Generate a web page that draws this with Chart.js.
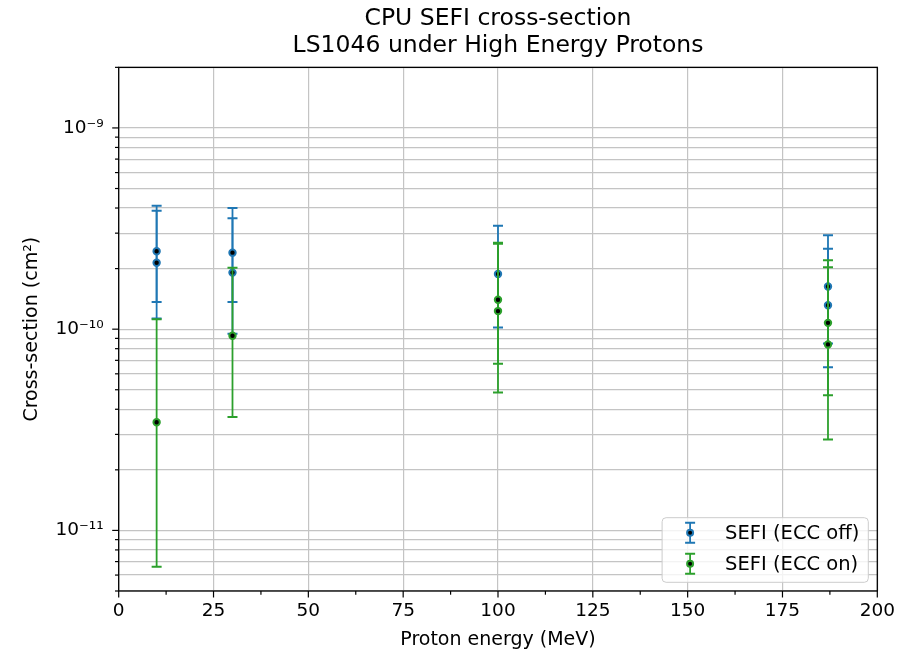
<!DOCTYPE html>
<html>
<head>
<meta charset="utf-8">
<script src="https://cdn.jsdelivr.net/npm/chart.js@4.4.0/dist/chart.umd.min.js"></script>
<style>
html, body { margin: 0; padding: 0; background: #fff; }
</style>
</head>
<body>
<canvas id="graficaSefi" width="907" height="652"></canvas>
<script>
// SEFI (ECC off)
var energiaOff = [10, 10, 30, 30, 100, 187, 187];
var sefiOff = [2.44e-10, 2.14e-10, 2.40e-10, 1.91e-10, 1.88e-10, 1.63e-10, 1.315e-10];
var sefiOffAlto = [4.11e-10, 3.88e-10, 4.00e-10, 3.56e-10, 3.27e-10, 2.93e-10, 2.51e-10];
var sefiOffBajo = [1.365e-10, 1.13e-10, 1.365e-10, 9.5e-11, 1.02e-10, 8.5e-11, 6.46e-11];

// SEFI (ECC on)
var energiaOn = [10, 30, 100, 100, 187, 187];
var sefiOn = [3.45e-11, 9.27e-11, 1.40e-10, 1.23e-10, 1.075e-10, 8.4e-11];
var sefiOnAlto = [1.12e-10, 2.02e-10, 2.69e-10, 2.66e-10, 2.20e-10, 2.03e-10];
var sefiOnBajo = [6.6e-12, 3.66e-11, 6.73e-11, 4.84e-11, 4.70e-11, 2.83e-11];

var decadasY = [1e-11, 1e-10, 1e-9];
var etiquetasY = ['10\u207B\u00B9\u00B9', '10\u207B\u00B9\u2070', '10\u207B\u2079'];

var azul = '#1f77b4';
var verde = '#2ca02c';
var fuente = 'DejaVu Sans';

Chart.defaults.font.family = fuente;
Chart.defaults.color = '#000';

function puntos(xs, ys) {
    var out = [];
    for (var i = 0; i < xs.length; i++) out.push({x: xs[i], y: ys[i]});
    return out;
}

function esDecada(v) {
    var e = Math.log10(v);
    return Math.abs(e - Math.round(e)) < 1e-6;
}

// error bars, drawn under the markers of each dataset
var barrasError = {
    id: 'barrasError',
    beforeDatasetDraw: function(chart, args) {
        var ds = chart.data.datasets[args.index];
        if (!ds.errAlto) return;
        var sx = chart.scales.x, sy = chart.scales.y, ctx = chart.ctx;
        ctx.save();
        ctx.strokeStyle = ds.borderColor;
        for (var i = 0; i < ds.data.length; i++) {
            var px = sx.getPixelForValue(ds.data[i].x);
            var arriba = sy.getPixelForValue(ds.errAlto[i]);
            var abajo = sy.getPixelForValue(ds.errBajo[i]);
            ctx.lineWidth = 1.8;
            ctx.beginPath();
            ctx.moveTo(px, arriba);
            ctx.lineTo(px, abajo);
            ctx.stroke();
            ctx.lineWidth = 2;
            ctx.beginPath();
            ctx.moveTo(px - 5, arriba); ctx.lineTo(px + 5, arriba);
            ctx.moveTo(px - 5, abajo); ctx.lineTo(px + 5, abajo);
            ctx.stroke();
        }
        ctx.restore();
    }
};

// frame, tick marks and the legend box
var marco = {
    id: 'marco',
    afterDatasetsDraw: function(chart) {
        var ctx = chart.ctx, a = chart.chartArea;
        var sx = chart.scales.x, sy = chart.scales.y;
        ctx.save();
        ctx.strokeStyle = '#000';
        ctx.lineWidth = 1.2;
        sy.ticks.forEach(function(t) {
            var py = sy.getPixelForValue(t.value);
            var largo = esDecada(t.value) ? 6.5 : 3.7;
            ctx.beginPath();
            ctx.moveTo(a.left - largo, py);
            ctx.lineTo(a.left, py);
            ctx.stroke();
        });
        for (var i = 0; i < sx.ticks.length; i++) {
            var px = sx.getPixelForValue(sx.ticks[i].value);
            ctx.beginPath();
            ctx.moveTo(px, a.bottom);
            ctx.lineTo(px, a.bottom + 6.5);
            ctx.stroke();
            if (i < sx.ticks.length - 1) {
                var medio = sx.getPixelForValue((sx.ticks[i].value + sx.ticks[i + 1].value) / 2);
                ctx.beginPath();
                ctx.moveTo(medio, a.bottom);
                ctx.lineTo(medio, a.bottom + 3.7);
                ctx.stroke();
            }
        }
        ctx.lineWidth = 1.3;
        ctx.strokeRect(a.left, a.top, a.right - a.left, a.bottom - a.top);
        ctx.restore();
    },
    afterDraw: function(chart) {
        var ctx = chart.ctx, a = chart.chartArea;
        var ds = chart.data.datasets;
        ctx.save();
        ctx.font = '19.5px "' + fuente + '"';
        var ancho = 0;
        ds.forEach(function(d) { ancho = Math.max(ancho, ctx.measureText(d.label).width); });
        var der = a.right - 9, abajo = a.bottom - 8.7;
        var w = ancho + 72, h = 64.6;
        var izq = der - w, arriba = abajo - h;
        ctx.beginPath();
        ctx.roundRect(izq, arriba, w, h, 4);
        ctx.fillStyle = 'rgba(255,255,255,0.8)';
        ctx.fill();
        ctx.strokeStyle = '#cccccc';
        ctx.lineWidth = 1;
        ctx.stroke();
        ds.forEach(function(d, k) {
            var cy = arriba + 15 + k * 31;
            var cx = izq + 28;
            ctx.strokeStyle = d.borderColor;
            ctx.lineWidth = 1.8;
            ctx.beginPath();
            ctx.moveTo(cx, cy - 10); ctx.lineTo(cx, cy + 10);
            ctx.stroke();
            ctx.lineWidth = 2;
            ctx.beginPath();
            ctx.moveTo(cx - 5, cy - 10); ctx.lineTo(cx + 5, cy - 10);
            ctx.moveTo(cx - 5, cy + 10); ctx.lineTo(cx + 5, cy + 10);
            ctx.stroke();
            ctx.beginPath();
            ctx.arc(cx, cy, 3, 0, Math.PI * 2);
            ctx.fillStyle = '#000';
            ctx.fill();
            ctx.stroke();
            ctx.fillStyle = '#000';
            ctx.textBaseline = 'middle';
            ctx.textAlign = 'left';
            ctx.fillText(d.label, izq + 63, cy + 1);
        });
        ctx.restore();
    }
};

var datos = {
    datasets: [{
        label: 'SEFI (ECC off)',
        data: puntos(energiaOff, sefiOff),
        errAlto: sefiOffAlto,
        errBajo: sefiOffBajo,
        borderColor: azul,
        backgroundColor: '#000',
        pointRadius: 3.2,
        pointBorderWidth: 2,
        order: 2
    }, {
        label: 'SEFI (ECC on)',
        data: puntos(energiaOn, sefiOn),
        errAlto: sefiOnAlto,
        errBajo: sefiOnBajo,
        borderColor: verde,
        backgroundColor: '#000',
        pointRadius: 3.2,
        pointBorderWidth: 2,
        order: 1
    }]
};

var opciones = {
    responsive: false,
    animation: false,
    layout: { padding: { left: 0, right: 29.7, top: 0, bottom: 0 } },
    plugins: {
        legend: { display: false },
        tooltip: { enabled: false },
        title: {
            display: true,
            fullSize: false,
            text: ['CPU SEFI cross-section', 'LS1046 under High Energy Protons'],
            font: { family: fuente, size: 23.5, weight: 'normal', lineHeight: 1.15 },
            color: '#000',
            padding: { top: 5, bottom: 8.3 }
        }
    },
    scales: {
        x: {
            type: 'linear',
            min: 0,
            max: 200,
            ticks: { stepSize: 25, maxRotation: 0, autoSkip: false, padding: 9, font: { size: 18.5 }, color: '#000' },
            grid: { color: '#c4c4c4', lineWidth: 1.2, drawTicks: false },
            border: { display: false },
            title: { display: true, text: 'Proton energy (MeV)', font: { size: 19 }, color: '#000', padding: { top: 0, bottom: 1 } },
            afterFit: function(s) { s.height = 61; }
        },
        y: {
            type: 'logarithmic',
            min: 5e-12,
            max: 2e-9,
            afterBuildTicks: function(s) {
                var ticks = [];
                for (var e = -12; e <= -9; e++) {
                    for (var m = 1; m <= 9; m++) {
                        var v = m * Math.pow(10, e);
                        if (v >= s.min * 0.999 && v <= s.max * 1.001) ticks.push({ value: v });
                    }
                }
                s.ticks = ticks;
            },
            ticks: {
                autoSkip: false,
                padding: 15,
                font: { size: 18.5 },
                color: '#000',
                callback: function(v) {
                    for (var i = 0; i < decadasY.length; i++) {
                        if (Math.abs(v / decadasY[i] - 1) < 1e-6) return etiquetasY[i];
                    }
                    return '';
                }
            },
            grid: { color: '#c4c4c4', lineWidth: 1.2, drawTicks: false },
            border: { display: false },
            title: { display: true, text: 'Cross-section (cm\u00B2)', font: { size: 19 }, color: '#000', padding: { top: 20.6, bottom: 0 } },
            afterFit: function(s) { s.width = 118.7; }
        }
    }
};

var ctx = document.getElementById('graficaSefi').getContext('2d');
var grafica = new Chart(ctx, {
    type: 'scatter',
    data: datos,
    options: opciones,
    plugins: [barrasError, marco]
});
</script>
</body>
</html>
